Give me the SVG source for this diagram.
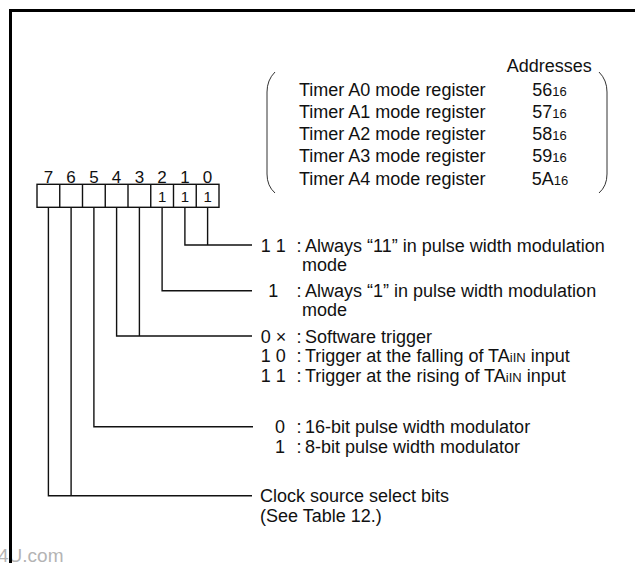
<svg xmlns="http://www.w3.org/2000/svg" width="635" height="563" viewBox="0 0 635 563">
<style>
text{font-family:"Liberation Sans",Arial,sans-serif;fill:#111;}
.t{font-size:18px;}
.b{font-size:17px;text-anchor:middle;}
.c{font-size:15px;text-anchor:middle;}
.m{text-anchor:middle;}
.s{font-size:13px;}
.ln{fill:none;stroke:#111;stroke-width:1.4;}
.br{fill:none;stroke:#333;stroke-width:1;}
</style>
<rect width="635" height="563" fill="#fff"/>
<text x="-2" y="562" style="font-size:19px;fill:#b4b4b4">4U.com</text>
<rect x="10.5" y="10.5" width="700" height="700" fill="none" stroke="#000" stroke-width="3"/>

<g id="register-list">
<path class="br" d="M275 72 Q267 80 267 92 L267 174 Q267 186 275 193"/>
<path class="br" d="M599 72 Q607 80 607 92 L607 174 Q607 186 599 193"/>
<text class="t" x="506.7" y="72.3">Addresses</text>
<text class="t" x="299" y="95.7">Timer A0 mode register</text>
<text class="t" x="299" y="117.9">Timer A1 mode register</text>
<text class="t" x="299" y="140.1">Timer A2 mode register</text>
<text class="t" x="299" y="162.3">Timer A3 mode register</text>
<text class="t" x="299" y="184.5">Timer A4 mode register</text>
<text class="t" x="532.3" y="95.7">56<tspan class="s">16</tspan></text>
<text class="t" x="532.3" y="117.9">57<tspan class="s">16</tspan></text>
<text class="t" x="532.3" y="140.1">58<tspan class="s">16</tspan></text>
<text class="t" x="532.3" y="162.3">59<tspan class="s">16</tspan></text>
<text class="t" x="531.7" y="184.5">5A<tspan class="s">16</tspan></text>
</g>

<g id="register-bits">
<rect class="ln" x="37" y="184.3" width="182" height="23"/>
<path class="ln" d="M59.75 184.3V207.3M82.5 184.3V207.3M105.25 184.3V207.3M128 184.3V207.3M150.75 184.3V207.3M173.5 184.3V207.3M196.25 184.3V207.3"/>
<text class="b" x="48.4" y="182.7">7</text>
<text class="b" x="71.1" y="182.7">6</text>
<text class="b" x="93.9" y="182.7">5</text>
<text class="b" x="116.6" y="182.7">4</text>
<text class="b" x="139.4" y="182.7">3</text>
<text class="b" x="162.1" y="182.7">2</text>
<text class="b" x="184.9" y="182.7">1</text>
<text class="b" x="207.6" y="182.7">0</text>
<text class="c" x="162.1" y="201.5">1</text>
<text class="c" x="184.9" y="201.5">1</text>
<text class="c" x="207.6" y="201.5">1</text>
</g>

<g id="connectors">
<path class="ln" d="M207.6 207.3V245M184.9 207.3V245H252"/>
<path class="ln" d="M162.1 207.3V290.7H252"/>
<path class="ln" d="M139.4 207.3V336M116.6 207.3V336H252"/>
<path class="ln" d="M93.9 207.3V426.7H253"/>
<path class="ln" d="M71.1 207.3V495.7M48.4 207.3V495.7H252"/>
</g>

<g id="bits-1-0">
<text class="t" x="260.7" y="251.5">1 1</text>
<text class="t m" x="299" y="251.5">:</text>
<text class="t" x="305" y="251.5">Always “11” in pulse width modulation</text>
<text class="t" x="302" y="270.5">mode</text>
</g>

<g id="bit-2">
<text class="t" x="268.3" y="297.2">1</text>
<text class="t m" x="299" y="297.2">:</text>
<text class="t" x="305" y="297.2">Always “1” in pulse width modulation</text>
<text class="t" x="302" y="316.2">mode</text>
</g>

<g id="bits-4-3">
<text class="t" x="260.7" y="342.5">0 ×</text>
<text class="t m" x="299" y="342.5">:</text>
<text class="t" x="305" y="342.5">Software trigger</text>
<text class="t" x="260.7" y="362">1 0</text>
<text class="t m" x="299" y="362">:</text>
<text class="t" x="305" y="362">Trigger at the falling of TA<tspan class="s">iIN</tspan> input</text>
<text class="t" x="260.7" y="381.5">1 1</text>
<text class="t m" x="299" y="381.5">:</text>
<text class="t" x="305" y="381.5">Trigger at the rising of TA<tspan class="s">iIN</tspan> input</text>
</g>

<g id="bit-5">
<text class="t" x="275" y="433.2">0</text>
<text class="t m" x="299" y="433.2">:</text>
<text class="t" x="305" y="433.2">16-bit pulse width modulator</text>
<text class="t" x="275" y="452.5">1</text>
<text class="t m" x="299" y="452.5">:</text>
<text class="t" x="305" y="452.5">8-bit pulse width modulator</text>
</g>

<g id="bits-7-6">
<text class="t" x="260" y="502.2">Clock source select bits</text>
<text class="t" x="260" y="521.5">(See Table 12.)</text>
</g>
</svg>
